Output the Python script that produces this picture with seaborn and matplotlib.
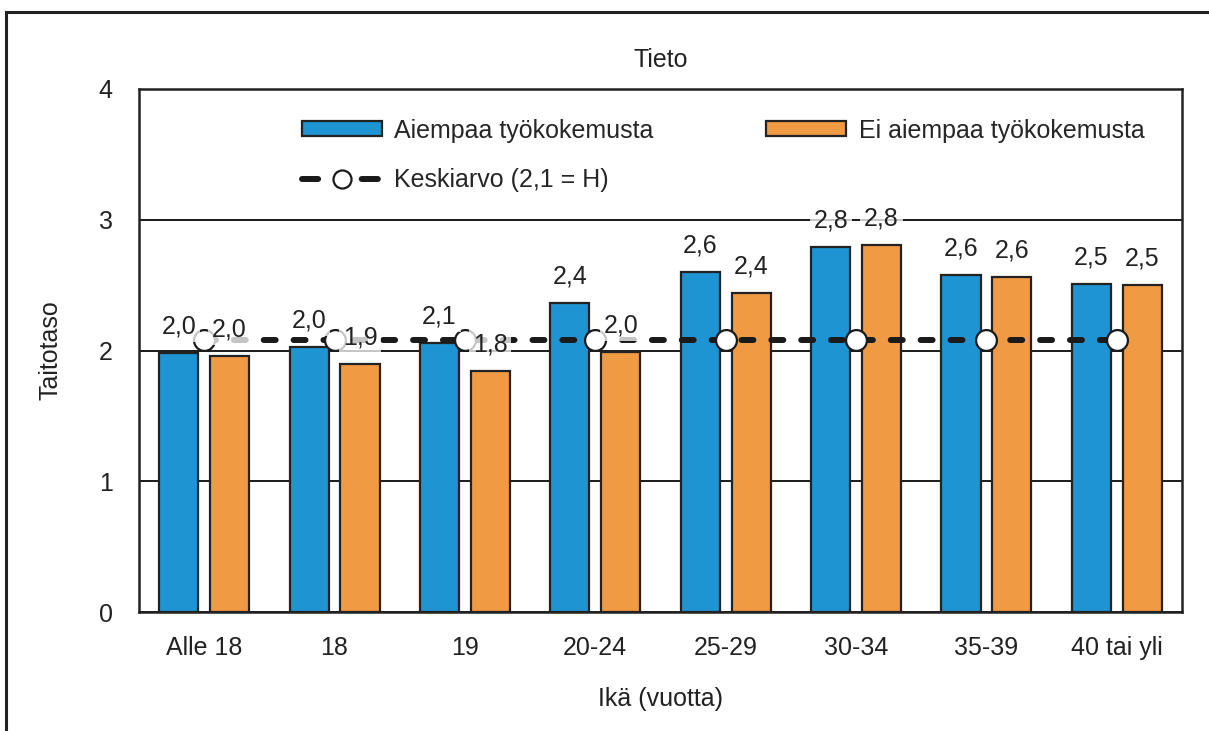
import matplotlib
matplotlib.use("Agg")
import matplotlib.pyplot as plt
from matplotlib.patches import Rectangle
from matplotlib.lines import Line2D
import seaborn as sns
import pandas as pd

# Data
categories = ["Alle 18", "18", "19", "20-24", "25-29", "30-34", "35-39", "40 tai yli"]
with_experience = [1.98, 2.03, 2.06, 2.36, 2.60, 2.79, 2.58, 2.51]
without_experience = [1.96, 1.90, 1.84, 1.99, 2.44, 2.81, 2.56, 2.50]
mean_value = 2.08
series_names = ["Aiempaa työkokemusta", "Ei aiempaa työkokemusta"]
mean_label = "Keskiarvo (2,1 = H)"
y_ticks = [0, 1, 2, 3, 4]

sns.set_theme(style="white")
plt.rcParams["font.family"] = ["Liberation Sans Narrow", "Liberation Sans", "DejaVu Sans"]
FS = 18
INK = "#222222"

df = pd.DataFrame({
    "Ikä": categories * 2,
    "Taitotaso": with_experience + without_experience,
    "Ryhmä": [series_names[0]] * len(categories) + [series_names[1]] * len(categories),
})

palette = {series_names[0]: "#1E94D2", series_names[1]: "#F09A44"}

fig = plt.figure(figsize=(12.09, 7.31), dpi=100)
ax = fig.add_axes([139 / 1209, 1 - 612 / 731, (1182 - 139) / 1209, (612 - 89) / 731])

sns.barplot(data=df, x="Ikä", y="Taitotaso", hue="Ryhmä", order=categories,
            hue_order=series_names, palette=palette, width=0.78, gap=0.23,
            edgecolor=INK, linewidth=1.6, saturation=1, ax=ax, zorder=3,
            legend=False)

# Mean line across the age groups
xs = list(range(len(categories)))
ax.plot(xs, [mean_value] * len(categories), color="#1a1a1a", lw=4.3,
        linestyle=(0, (2.0, 3.0)), dash_capstyle="round",
        marker="o", markersize=15, markerfacecolor="white",
        markeredgecolor="#1a1a1a", markeredgewidth=1.6, zorder=5)

# Value labels above each bar
for i, cat in enumerate(categories):
    for vals, off in ((with_experience, -0.195), (without_experience, 0.195)):
        v = vals[i]
        ax.annotate(f"{v:.1f}".replace(".", ","), xy=(i + off, v),
                    xytext=(0, 14), textcoords="offset points",
                    ha="center", va="baseline", fontsize=FS, color=INK,
                    zorder=6,
                    bbox=dict(boxstyle="square,pad=0.15", fc="white",
                              ec="none", alpha=0.75))

ax.set_ylim(0, 4)
ax.set_xlim(-0.5, len(categories) - 0.5)
ax.set_yticks(y_ticks)
ax.set_yticklabels([str(t) for t in y_ticks])
ax.yaxis.grid(True, color="#1a1a1a", lw=1.4)
ax.set_axisbelow(True)
ax.tick_params(axis="both", length=0, labelsize=FS, colors=INK)
ax.tick_params(axis="y", pad=19)
ax.tick_params(axis="x", pad=17)
for s in ax.spines.values():
    s.set_visible(True)
    s.set_color(INK)
    s.set_linewidth(1.8)

ax.set_xlabel("Ikä (vuotta)", fontsize=FS, color=INK, labelpad=20)
ax.set_ylabel("Taitotaso", fontsize=FS, color=INK, labelpad=26)
ax.set_title("Tieto", fontsize=FS, color=INK, pad=16)

# Legend
handles = [
    Rectangle((0, 0), 1, 1, fc=palette[series_names[0]], ec=INK, lw=1.6),
    Line2D([], [], color="#1a1a1a", lw=4.3, linestyle=(0, (2.7, 7.3)),
           dash_capstyle="round", marker="o", markersize=13,
           markerfacecolor="white", markeredgecolor="#1a1a1a", markeredgewidth=1.6),
    Rectangle((0, 0), 1, 1, fc=palette[series_names[1]], ec=INK, lw=1.6),
]
labels = [series_names[0], mean_label, series_names[1]]
ax.legend(handles, labels, loc="upper left", bbox_to_anchor=(0.156, 0.943),
          ncol=2, frameon=False, fontsize=FS, handlelength=3.2,
          handleheight=0.55, handletextpad=0.5, columnspacing=4.5,
          labelspacing=1.0, borderpad=0, borderaxespad=0, numpoints=1)

# Outer frame
fig.patches.append(Rectangle((6 / 1209, -0.1), 1.2, 0.1 + (731 - 12) / 731,
                             transform=fig.transFigure, fill=False,
                             ec=INK, lw=2.2, clip_on=False))

fig.savefig("out.png", dpi=100)
